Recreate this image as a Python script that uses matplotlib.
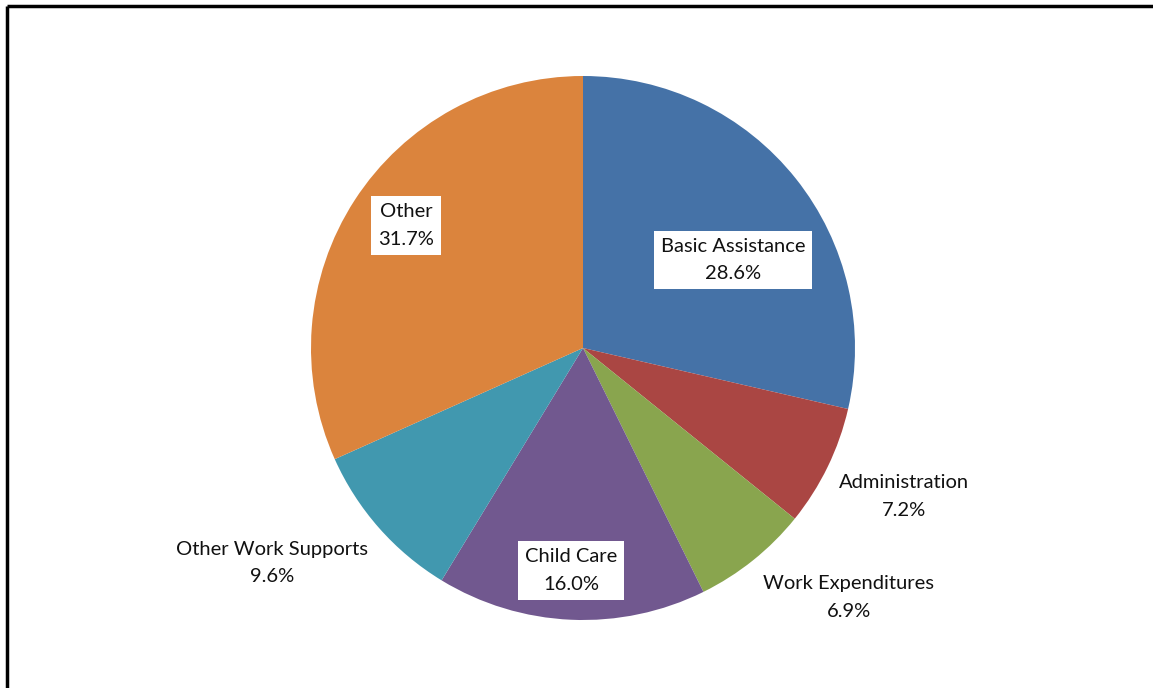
import matplotlib
matplotlib.use("Agg")
import matplotlib.pyplot as plt
import numpy as np

# slices in clockwise order from the top
categories = ["Basic Assistance", "Administration", "Work Expenditures",
              "Child Care", "Other Work Supports", "Other"]
shares = [28.6, 7.2, 6.9, 16.0, 9.6, 31.7]
colors = ["#4572A7", "#AA4643", "#89A54E", "#71588F", "#4198AF", "#DB843D"]
boxed = [True, False, False, True, False, True]

# label placement: (angle in degrees, distance as a fraction of radius)
label_pos = [(30.4, 0.64), (-24.8, 1.30), (-43.2, 1.34), (-93.1, 0.82),
             (-145.3, 1.39), (145.3, 0.79)]

W, H = 1153, 688
fig = plt.figure(figsize=(W / 100, H / 100), dpi=100)
ax = fig.add_axes([0, 0, 1, 1])

cx, cy, r = 583, H - 348, 272
ax.pie(shares, colors=colors, startangle=90, counterclock=False,
       center=(cx, cy), radius=r, wedgeprops=dict(linewidth=0), frame=True)
ax.set_xlim(0, W)
ax.set_ylim(0, H)
ax.set_aspect("equal")
ax.axis("off")

for name, val, box, (ang, frac) in zip(categories, shares, boxed, label_pos):
    x = cx + frac * r * np.cos(np.radians(ang))
    y = cy + frac * r * np.sin(np.radians(ang))
    txt = "%s\n%.1f%%" % (name, val)
    kw = {}
    if box:
        kw["bbox"] = dict(boxstyle="square,pad=0.35", fc="white", ec="none")
    ax.text(x, y, txt, ha="center", va="center", fontsize=14.5,
            family="Lato", linespacing=1.75, color="#111111", **kw)

# frame lines visible at top and left
ax.plot([7, W], [H - 6, H - 6], color="black", lw=2.5, solid_capstyle="butt")
ax.plot([7, 7], [0, H - 6], color="black", lw=2.5, solid_capstyle="butt")

fig.savefig("out.png", dpi=100)
